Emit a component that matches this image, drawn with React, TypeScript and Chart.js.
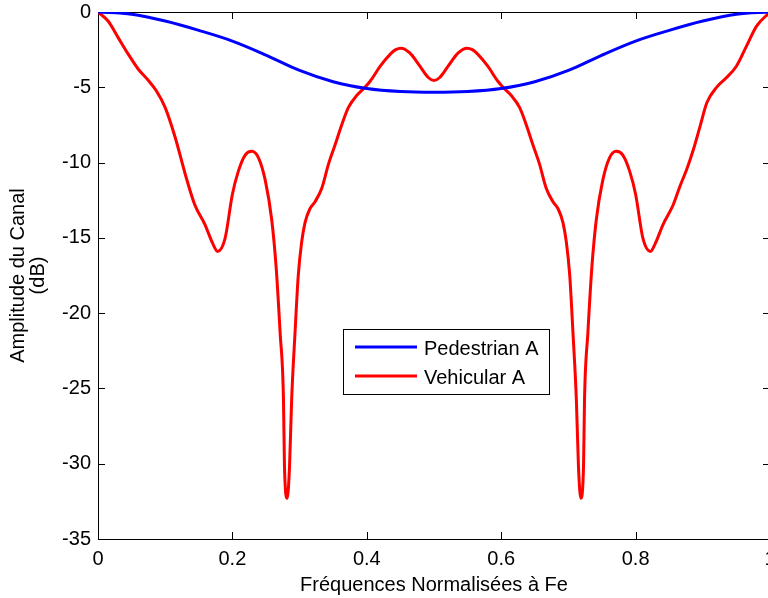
import React, { useEffect, useRef } from "react";
import { Chart, registerables } from "chart.js";

Chart.register(...registerables);

const seriesNames = ["Pedestrian A", "Vehicular A"];
const xTitle = "Fréquences Normalisées à Fe";
const yTitle = ["Amplitude du Canal", "(dB)"];
const xTicks = [0, 0.2, 0.4, 0.6, 0.8, 1];
const yTicks = [0, -5, -10, -15, -20, -25, -30, -35];

const pedFreq = [0, 0.05, 0.1, 0.15, 0.2, 0.25, 0.3, 0.35, 0.4, 0.45, 0.5, 0.55, 0.6, 0.65, 0.7, 0.75, 0.8, 0.85, 0.9, 0.95, 1];
const pedAmp = [0, -0.15, -0.6, -1.22, -1.93, -2.86, -3.88, -4.63, -5.08, -5.28, -5.33, -5.28, -5.08, -4.63, -3.88, -2.86, -1.93, -1.22, -0.6, -0.15, 0];

const vehFreq = [
  0, 0.015, 0.03, 0.045, 0.06, 0.075, 0.087, 0.1, 0.115, 0.13, 0.144, 0.159, 0.171, 0.178, 0.189, 0.2, 0.209, 0.219, 0.229, 0.239, 0.249, 0.2585, 0.265, 0.271, 0.276, 0.2775, 0.2815, 0.285, 0.2882, 0.2932, 0.298, 0.303, 0.308, 0.315, 0.323, 0.333, 0.343, 0.353, 0.363, 0.3725, 0.385, 0.395, 0.405, 0.42, 0.435, 0.443, 0.451, 0.464, 0.479, 0.4915, 0.5,
  0.5085, 0.521, 0.536, 0.549, 0.557, 0.565, 0.58, 0.595, 0.605, 0.615, 0.6275, 0.637, 0.647, 0.657, 0.667, 0.677, 0.685, 0.692, 0.697, 0.702, 0.7068, 0.7118, 0.715, 0.7185, 0.7225, 0.724, 0.729, 0.735, 0.7415, 0.751, 0.761, 0.771, 0.781, 0.791, 0.8, 0.811, 0.822, 0.829, 0.841, 0.856, 0.866, 0.876, 0.886, 0.896, 0.906, 0.921, 0.935, 0.95, 0.965, 0.98, 1,
];
const vehAmp = [
  0, -0.6, -1.7, -2.8, -3.8, -4.55, -5.25, -6.35, -8.35, -10.8, -12.8, -14.1, -15.4, -15.9, -15.05, -12.1, -10.55, -9.5, -9.25, -9.7, -11.2, -13.8, -16.9, -21.3, -25.7, -30.2, -32.3, -30.2, -25.7, -21.3, -17.5, -15.3, -14.0, -13.1, -12.6, -11.7, -10.1, -8.8, -7.45, -6.35, -5.55, -5.1, -4.6, -3.6, -2.8, -2.5, -2.4, -2.72, -3.6, -4.35, -4.55,
  -4.35, -3.6, -2.72, -2.4, -2.5, -2.8, -3.6, -4.6, -5.1, -5.55, -6.35, -7.45, -8.8, -10.1, -11.7, -12.6, -13.1, -14.0, -15.3, -17.5, -21.3, -25.7, -30.2, -32.3, -30.2, -25.7, -21.3, -16.9, -13.8, -11.2, -9.7, -9.25, -9.5, -10.55, -12.1, -15.05, -15.9, -15.4, -14.1, -12.8, -11.57, -10.46, -9.13, -7.58, -6.03, -4.97, -4.37, -3.6, -2.27, -0.94, 0,
];

const FONT = "'Liberation Sans', Arial, Helvetica, sans-serif";
const BLUE = "#0000ff";
const RED = "#ff0000";

const boxPlugin = {
  id: "matlabBox",
  beforeDatasetsDraw(chart: any) {
    const { ctx, chartArea: a, scales } = chart;
    const L = 7;
    ctx.save();
    ctx.strokeStyle = "#000";
    ctx.lineWidth = 1;
    ctx.strokeRect(a.left + 0.5, a.top + 0.5, a.right - a.left, a.bottom - a.top);
    ctx.beginPath();
    scales.x.ticks.forEach((t: any) => {
      const px = Math.round(scales.x.getPixelForValue(t.value)) + 0.5;
      ctx.moveTo(px, a.bottom);
      ctx.lineTo(px, a.bottom - L);
      ctx.moveTo(px, a.top);
      ctx.lineTo(px, a.top + L);
    });
    scales.y.ticks.forEach((t: any) => {
      const py = Math.round(scales.y.getPixelForValue(t.value)) + 0.5;
      ctx.moveTo(a.left, py);
      ctx.lineTo(a.left + L, py);
      ctx.moveTo(a.right, py);
      ctx.lineTo(a.right - L, py);
    });
    ctx.stroke();
    ctx.restore();
  },
};

const legendPlugin = {
  id: "matlabLegend",
  afterDraw(chart: any) {
    const { ctx } = chart;
    const bx = 343, by = 329, bw = 206, bh = 65;
    ctx.save();
    ctx.fillStyle = "#fff";
    ctx.fillRect(bx, by, bw, bh);
    ctx.strokeStyle = "#000";
    ctx.lineWidth = 1;
    ctx.strokeRect(bx + 0.5, by + 0.5, bw, bh);
    const colors = [BLUE, RED];
    const rowsY = [347, 376];
    ctx.font = `20px ${FONT}`;
    ctx.textBaseline = "alphabetic";
    ctx.textAlign = "left";
    seriesNames.forEach((name, i) => {
      ctx.strokeStyle = colors[i];
      ctx.lineWidth = 3;
      ctx.beginPath();
      ctx.moveTo(355, rowsY[i]);
      ctx.lineTo(417, rowsY[i]);
      ctx.stroke();
      ctx.fillStyle = "#000";
      ctx.fillText(name, 424, rowsY[i] + 7.5);
    });
    ctx.restore();
  },
};

export default function App() {
  const ref = useRef<HTMLCanvasElement | null>(null);

  useEffect(() => {
    document.documentElement.style.overflow = "hidden";
    document.body.style.overflow = "hidden";
    const canvas = ref.current;
    if (!canvas) return;
    const chart = new Chart(canvas, {
      type: "line",
      data: {
        datasets: [
          {
            label: seriesNames[0],
            data: pedFreq.map((x, i) => ({ x, y: pedAmp[i] })),
            borderColor: BLUE,
            backgroundColor: BLUE,
            borderWidth: 3,
            pointRadius: 0,
            cubicInterpolationMode: "monotone",
            fill: false,
          },
          {
            label: seriesNames[1],
            data: vehFreq.map((x, i) => ({ x, y: vehAmp[i] })),
            borderColor: RED,
            backgroundColor: RED,
            borderWidth: 3,
            pointRadius: 0,
            cubicInterpolationMode: "monotone",
            fill: false,
          },
        ],
      },
      options: {
        animation: false,
        responsive: false,
        devicePixelRatio: 1,
        layout: { padding: { top: 12, right: 10, left: 0, bottom: 0 } },
        plugins: { legend: { display: false }, tooltip: { enabled: false } },
        scales: {
          x: {
            type: "linear",
            min: 0,
            max: 1,
            afterBuildTicks: (s: any) => {
              s.ticks = xTicks.map((v) => ({ value: v }));
            },
            afterFit: (s: any) => {
              s.height = 59;
              s.paddingLeft = 0;
              s.paddingRight = 0;
            },
            ticks: {
              callback: (v: any) => String(v),
              font: { family: FONT, size: 20 },
              color: "#000",
              padding: 8,
              maxRotation: 0,
              autoSkip: false,
            },
            grid: { display: false, drawTicks: false },
            border: { display: false },
            title: {
              display: true,
              text: xTitle,
              color: "#000",
              font: { family: FONT, size: 20 },
              padding: { top: 0, bottom: 1 },
            },
          },
          y: {
            type: "linear",
            min: -35,
            max: 0,
            afterBuildTicks: (s: any) => {
              s.ticks = yTicks.map((v) => ({ value: v }));
            },
            afterFit: (s: any) => {
              s.width = 98;
              s.paddingTop = 0;
              s.paddingBottom = 0;
            },
            ticks: {
              callback: (v: any) => String(v),
              font: { family: FONT, size: 20 },
              color: "#000",
              padding: 7,
              autoSkip: false,
            },
            grid: { display: false, drawTicks: false },
            border: { display: false },
            title: {
              display: true,
              text: yTitle,
              color: "#000",
              font: { family: FONT, size: 20, lineHeight: 1.0 },
              padding: { top: 8.5, bottom: 0 },
            },
          },
        },
      },
      plugins: [boxPlugin, legendPlugin],
    } as any);
    return () => chart.destroy();
  }, []);

  return (
    <div style={{ position: "fixed", left: 0, top: 0, width: 780, height: 598, background: "#fff" }}>
      <canvas ref={ref} width={780} height={598} style={{ display: "block" }} />
    </div>
  );
}
